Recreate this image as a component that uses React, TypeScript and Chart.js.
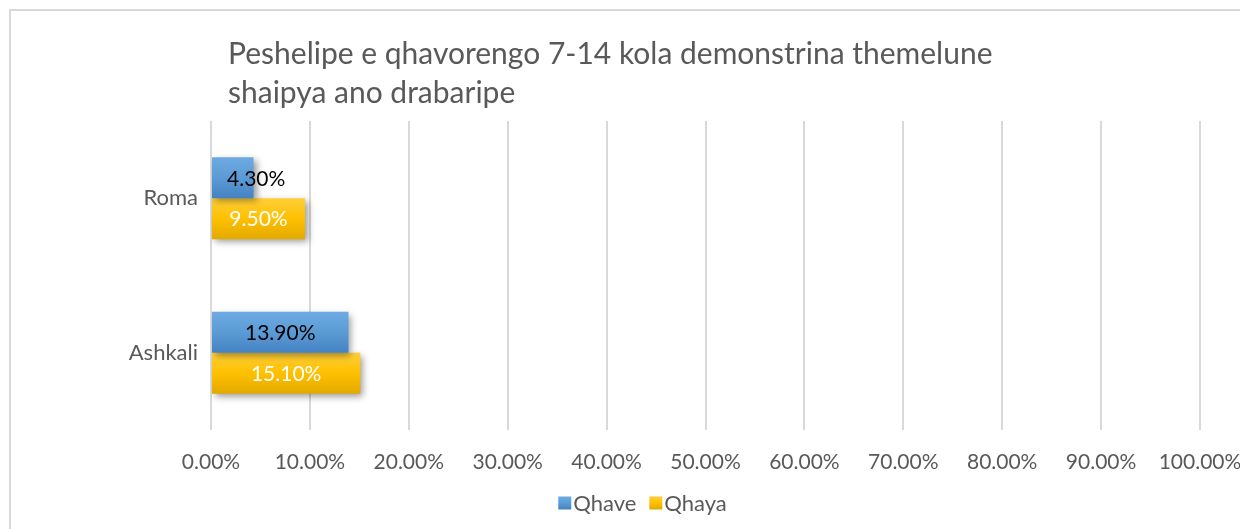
import React, { useEffect, useRef } from 'react';
import { Chart, registerables } from 'chart.js';

Chart.register(...registerables);

const titleLines = ['Peshelipe e qhavorengo 7-14 kola demonstrina themelune', 'shaipya ano drabaripe'];
const categories = ['Roma', 'Ashkali'];
const seriesNames = ['Qhave', 'Qhaya'];
const qhave = [4.3, 13.9];
const qhaya = [9.5, 15.1];
const xMin = 0;
const xMax = 100;
const xStep = 10;

const FONT = 'Lato';
const GRAY = '#595959';
const BLUE_STOPS = ['#6eaae2', '#5b9bd5', '#4482c2'];
const GOLD_STOPS = ['#ffcf3a', '#ffc000', '#e2a900'];

function grad(ctx: CanvasRenderingContext2D, top: number, bottom: number, stops: string[]) {
  const g = ctx.createLinearGradient(0, top, 0, bottom);
  g.addColorStop(0, stops[0]);
  g.addColorStop(0.5, stops[1]);
  g.addColorStop(1, stops[2]);
  return g;
}

export default function App() {
  const ref = useRef<HTMLCanvasElement>(null);

  useEffect(() => {
    const canvas = ref.current!;
    const stopsFor = [BLUE_STOPS, GOLD_STOPS];

    const barStylePlugin = {
      id: 'barStyle',
      beforeDatasetDraw(chart: any, args: any) {
        const ctx = chart.ctx;
        const stops = stopsFor[args.index];
        args.meta.data.forEach((el: any) => {
          const { y, height } = el.getProps(['y', 'height'], true);
          el.options = Object.assign({}, el.options, {
            backgroundColor: grad(ctx, y - height / 2, y + height / 2, stops),
          });
        });
        ctx.save();
        ctx.shadowColor = 'rgba(0,0,0,0.4)';
        ctx.shadowBlur = 7;
        ctx.shadowOffsetX = 3;
        ctx.shadowOffsetY = 3;
      },
      afterDatasetDraw(chart: any) {
        chart.ctx.restore();
      },
    };

    const labelPlugin = {
      id: 'barLabels',
      afterDatasetsDraw(chart: any) {
        const ctx = chart.ctx;
        ctx.save();
        ctx.font = `21px ${FONT}`;
        ctx.textBaseline = 'middle';
        ctx.textAlign = 'center';
        chart.data.datasets.forEach((ds: any, i: number) => {
          const meta = chart.getDatasetMeta(i);
          meta.data.forEach((el: any, j: number) => {
            const { x, y, base } = el.getProps(['x', 'y', 'base'], true);
            const text = Number(ds.data[j]).toFixed(2) + '%';
            const w = ctx.measureText(text).width;
            const cx = Math.max((x + base) / 2, base + w / 2 + 15);
            ctx.fillStyle = i === 0 ? '#000000' : '#ffffff';
            ctx.fillText(text, cx, y + 1);
          });
        });
        ctx.restore();
      },
    };

    const titlePlugin = {
      id: 'leftTitle',
      afterDraw(chart: any) {
        const ctx = chart.ctx;
        ctx.save();
        ctx.font = `30px ${FONT}`;
        ctx.fillStyle = GRAY;
        ctx.textBaseline = 'middle';
        ctx.textAlign = 'left';
        const x0 = chart.chartArea.left + 17;
        titleLines.forEach((line, k) => ctx.fillText(line, x0, 43 + k * 39));
        ctx.restore();
      },
    };

    const legendPlugin = {
      id: 'bottomLegend',
      afterDraw(chart: any) {
        const ctx = chart.ctx;
        ctx.save();
        ctx.font = `22px ${FONT}`;
        ctx.textBaseline = 'middle';
        ctx.textAlign = 'left';
        const box = 13;
        const gapText = 2;
        const gapItem = 13;
        const names = chart.data.datasets.map((d: any) => d.label as string);
        const widths = names.map((n: string) => box + gapText + ctx.measureText(n).width);
        const total = widths.reduce((a: number, b: number) => a + b, 0) + gapItem * (names.length - 1);
        let x = chart.width / 2 - total / 2;
        const cy = chart.height - 26;
        names.forEach((n: string, i: number) => {
          ctx.fillStyle = grad(ctx, cy - box / 2, cy + box / 2, stopsFor[i]);
          ctx.fillRect(x, cy - box / 2, box, box);
          ctx.fillStyle = GRAY;
          ctx.fillText(n, x + box + gapText, cy + 1);
          x += widths[i] + gapItem;
        });
        ctx.restore();
      },
    };

    const chart = new Chart(canvas, {
      type: 'bar',
      data: {
        labels: categories,
        datasets: [
          { label: seriesNames[0], data: qhave, backgroundColor: '#5b9bd5', categoryPercentage: 0.53, barPercentage: 1 },
          { label: seriesNames[1], data: qhaya, backgroundColor: '#ffc000', categoryPercentage: 0.53, barPercentage: 1 },
        ],
      },
      options: {
        indexAxis: 'y',
        responsive: false,
        animation: false,
        layout: { padding: { top: 110, right: 74, bottom: 47, left: 0 } },
        scales: {
          x: {
            min: xMin,
            max: xMax,
            ticks: {
              stepSize: xStep,
              callback: (v: any) => Number(v).toFixed(2) + '%',
              color: GRAY,
              font: { family: FONT, size: 21 },
              padding: 20,
              maxRotation: 0,
            },
            grid: { color: '#d9d9d9', lineWidth: 2, drawTicks: false },
            border: { display: false },
            afterFit: (s: any) => {
              s.height = 52;
            },
          },
          y: {
            grid: { display: false },
            border: { display: false },
            ticks: { color: GRAY, font: { family: FONT, size: 22 }, padding: 5 },
            afterFit: (s: any) => {
              s.width = 200;
            },
          },
        },
        plugins: {
          legend: { display: false },
          title: { display: false },
          tooltip: { enabled: false },
        },
      } as any,
      plugins: [barStylePlugin, labelPlugin, titlePlugin, legendPlugin],
    });

    return () => chart.destroy();
  }, []);

  return (
    <div style={{ position: 'relative', width: 1240, height: 521, overflow: 'hidden', background: '#ffffff' }}>
      <div
        style={{
          position: 'absolute',
          left: 1,
          top: 1,
          width: 1300,
          height: 600,
          border: '2px solid #d9d9d9',
          boxSizing: 'border-box',
        }}
      >
        <canvas ref={ref} width={1263} height={518} style={{ display: 'block', width: 1263, height: 518 }} />
      </div>
    </div>
  );
}
